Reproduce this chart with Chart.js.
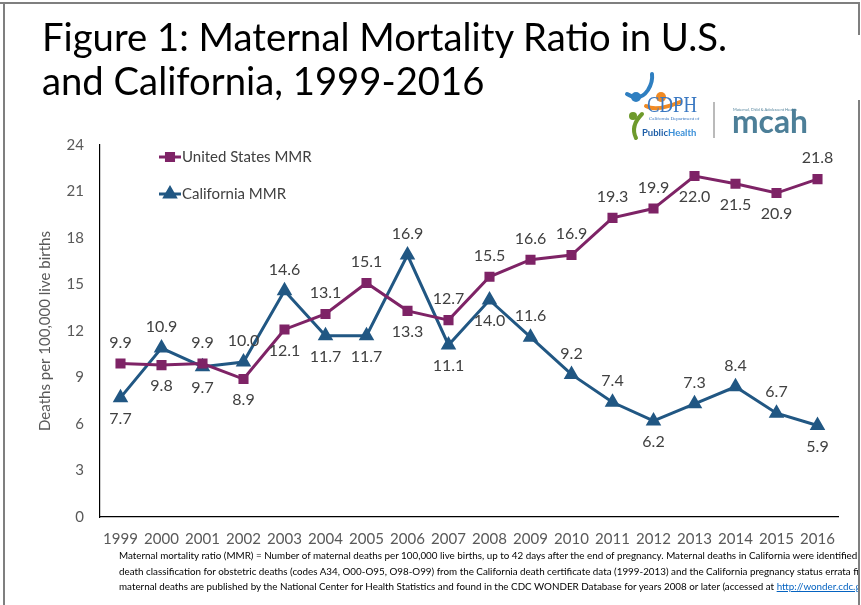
<!DOCTYPE html>
<html>
<head>
<meta charset="utf-8">
<script src="https://cdn.jsdelivr.net/npm/chart.js@4.4.1/dist/chart.umd.min.js"></script>
<style>
  body { margin: 0; background: #fff; }
  #wrap { position: relative; width: 861px; height: 605px; overflow: hidden; font-family: Lato, 'Open Sans', sans-serif; }
  #chart { position: absolute; left: 0; top: 0; }
  #title { position: absolute; left: 42px; top: 14px; color: #000; white-space: nowrap; line-height: 44px; font-size: 38px; }
  #logo { position: absolute; left: 620px; top: 70px; }
  #noteClip { position: absolute; left: 119px; top: 548px; width: 739px; height: 52px; overflow: hidden; }
  #note { white-space: nowrap; font-size: 10.4px; line-height: 15.5px; color: #000;
          transform: scaleX(0.945); transform-origin: 0 0; }
  #note a { color: #0563c1; text-decoration: underline; }
  .edge { position: absolute; background: #7f7f7f; }
</style>
</head>
<body>
<div id="wrap">
  <canvas id="chart" width="861" height="605"></canvas>
  <div id="title">Figure 1: Maternal Mortality Ratio in U.S.<br>and California, 1999-2016</div>
  <svg id="logo" width="200" height="80" viewBox="0 0 200 80">
    <path d="M7 24 Q20 32 28 20 Q33 12 32 4" stroke="#2f7fc1" stroke-width="4" fill="none" stroke-linecap="round"/>
    <circle cx="16" cy="27" r="5" fill="#2f7fc1"/>
    <circle cx="41" cy="27" r="5" fill="#f08a24"/>
    <path d="M26 36 Q36 42 60 32" stroke="#f08a24" stroke-width="4" fill="none" stroke-linecap="round"/>
    <circle cx="13" cy="46" r="4" fill="#6e9a2c"/>
    <path d="M22 44 Q10 56 16 68" stroke="#6e9a2c" stroke-width="4" fill="none" stroke-linecap="round"/>
    <text x="27" y="42" font-family="'Liberation Serif', serif" font-size="24" fill="#3a78c2" textLength="50" lengthAdjust="spacingAndGlyphs">CDPH</text>
    <text x="29" y="50" font-family="'Liberation Serif', serif" font-size="5" fill="#3a78c2">California Department of</text>
    <text x="22" y="66" font-family="Lato, sans-serif" font-size="9.5" font-weight="bold" fill="#1f5fa8">Public<tspan fill="#3a8fd8">Health</tspan></text>
    <line x1="94" y1="32" x2="94" y2="68" stroke="#8c8c8c" stroke-width="1.2"/>
    <text x="113" y="41" font-family="Lato, sans-serif" font-size="4" fill="#4d7f98">Maternal, Child &amp; Adolescent Health</text>
    <text x="112" y="63" font-family="Lato, sans-serif" font-size="33" font-weight="bold" fill="#4d7f98" textLength="76" lengthAdjust="spacingAndGlyphs">mcah</text>
  </svg>
  <div id="noteClip"><div id="note">
    Maternal mortality ratio (MMR) = Number of maternal deaths per 100,000 live births, up to 42 days after the end of pregnancy. Maternal deaths in California were identified using<br>
    death classification for obstetric deaths (codes A34, O00-O95, O98-O99) from the California death certificate data (1999-2013) and the California pregnancy status errata file (2014-2016).<br>
    maternal deaths are published by the National Center for Health Statistics and found in the CDC WONDER Database for years 2008 or later (accessed at <a>http://wonder.cdc.gov</a>).
  </div></div>
  <div class="edge" style="left:0;top:2px;width:860px;height:2px;"></div>
  <div class="edge" style="left:3px;top:2px;width:2px;height:603px;"></div>
  <div class="edge" style="left:858px;top:2px;width:2px;height:33px;"></div>
  <div class="edge" style="left:858px;top:100px;width:2px;height:505px;"></div>
</div>
<script>
// chart data
const years = ['1999', '2000', '2001', '2002', '2003', '2004', '2005', '2006', '2007',
               '2008', '2009', '2010', '2011', '2012', '2013', '2014', '2015', '2016'];
const usMMR = [9.9, 9.8, 9.9, 8.9, 12.1, 13.1, 15.1, 13.3, 12.7,
               15.5, 16.6, 16.9, 19.3, 19.9, 22.0, 21.5, 20.9, 21.8];
const caMMR = [7.7, 10.9, 9.7, 10.0, 14.6, 11.7, 11.7, 16.9, 11.1,
               14.0, 11.6, 9.2, 7.4, 6.2, 7.3, 8.4, 6.7, 5.9];
const yTicks = [0, 3, 6, 9, 12, 15, 18, 21, 24];

// where each value label sits relative to its point (a = above, b = below)
const usLabelPos = ['a', 'b', 'a', 'b', 'b', 'a', 'a', 'b', 'a', 'a', 'a', 'a', 'a', 'a', 'b', 'b', 'b', 'a'];
const caLabelPos = ['b', 'a', 'b', 'a', 'a', 'b', 'b', 'a', 'b', 'b', 'a', 'a', 'a', 'b', 'a', 'a', 'a', 'b'];

const US_COLOR = '#7e2366';
const CA_COLOR = '#215783';
const TEXT_GRAY = '#404040';

// fit the big title to the width of the original slide heading
(function fitTitle() {
    const el = document.getElementById('title');
    const c = document.createElement('canvas').getContext('2d');
    c.font = '38px Lato';
    const w = c.measureText('Figure 1: Maternal Mortality Ratio in U.S.').width;
    el.style.fontSize = (38 * 686 / w).toFixed(2) + 'px';
})();

const valueLabels = {
    id: 'valueLabels',
    afterDatasetsDraw(chart) {
        const ctx = chart.ctx;
        ctx.save();
        ctx.font = '16px Lato';
        ctx.fillStyle = TEXT_GRAY;
        ctx.textAlign = 'center';
        ctx.textBaseline = 'middle';
        chart.data.datasets.forEach((ds, i) => {
            chart.getDatasetMeta(i).data.forEach((pt, j) => {
                const dy = ds.labelPos[j] === 'a' ? -21 : 21;
                ctx.fillText(ds.data[j].toFixed(1), pt.x, pt.y + dy);
            });
        });
        ctx.restore();
    }
};

const insideLegend = {
    id: 'insideLegend',
    afterDraw(chart) {
        const ctx = chart.ctx;
        ctx.save();
        chart.data.datasets.forEach((ds, i) => {
            const y = 157 + i * 37;
            ctx.strokeStyle = ds.borderColor;
            ctx.lineWidth = 3;
            ctx.beginPath();
            ctx.moveTo(159, y);
            ctx.lineTo(181, y);
            ctx.stroke();
            ctx.fillStyle = ds.backgroundColor;
            Chart.helpers.drawPoint(ctx, {
                pointStyle: ds.pointStyle, radius: ds.pointRadius, rotation: 0, borderWidth: 1
            }, 170, y);
            ctx.font = '15px Lato';
            ctx.fillStyle = TEXT_GRAY;
            ctx.textBaseline = 'middle';
            ctx.fillText(ds.label, 182, y);
        });
        ctx.restore();
    }
};

new Chart(document.getElementById('chart').getContext('2d'), {
    type: 'line',
    data: {
        labels: years,
        datasets: [{
            label: 'United States MMR',
            data: usMMR,
            labelPos: usLabelPos,
            borderColor: US_COLOR,
            backgroundColor: US_COLOR,
            borderWidth: 3,
            pointStyle: 'rect',
            pointRadius: 5,
            tension: 0
        }, {
            label: 'California MMR',
            data: caMMR,
            labelPos: caLabelPos,
            borderColor: CA_COLOR,
            backgroundColor: CA_COLOR,
            borderWidth: 3,
            pointStyle: 'triangle',
            pointRadius: 6,
            tension: 0
        }]
    },
    options: {
        responsive: false,
        animation: false,
        layout: { padding: { left: 32, top: 145, right: 23, bottom: 58 } },
        plugins: { legend: { display: false }, tooltip: { enabled: false } },
        scales: {
            x: {
                offset: true,
                grid: { drawOnChartArea: false, drawTicks: false, offset: true },
                border: { color: '#000', width: 1.2 },
                ticks: { color: '#595959', font: { family: 'Lato', size: 15 }, padding: 13, maxRotation: 0, autoSkip: false },
                afterFit: (s) => { s.height = 30; }
            },
            y: {
                min: 0,
                max: 24,
                afterBuildTicks: (s) => { s.ticks = yTicks.map(v => ({ value: v })); },
                grid: { drawOnChartArea: false, drawTicks: false },
                border: { color: '#000', width: 1.2 },
                ticks: { color: '#595959', font: { family: 'Lato', size: 15 }, padding: 16 },
                title: { display: true, text: 'Deaths per 100,000 live births', color: '#595959',
                         font: { family: 'Lato', size: 15 }, padding: 4 },
                afterFit: (s) => { s.width = 68; }
            }
        }
    },
    plugins: [valueLabels, insideLegend]
});
</script>
</body>
</html>
